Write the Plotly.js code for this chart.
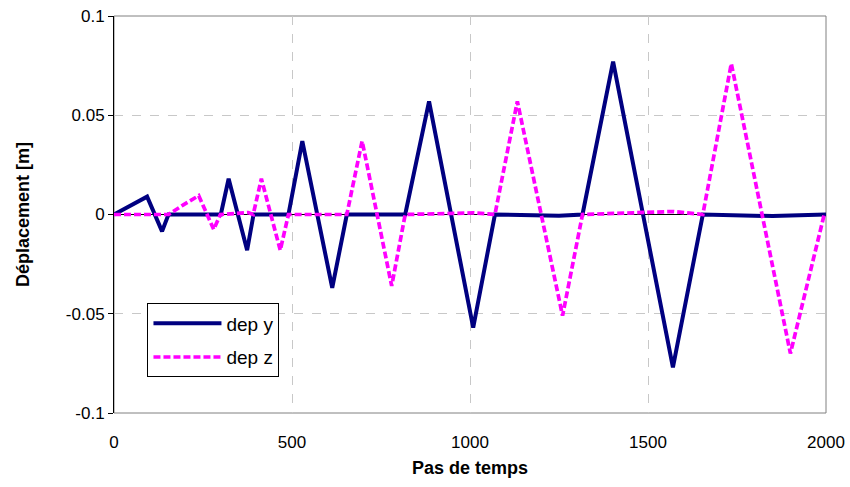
<!DOCTYPE html>
<html>
<head>
<meta charset="utf-8">
<script src="https://cdn.plot.ly/plotly-3.0.1.min.js"></script>
<style>
  html, body { margin: 0; padding: 0; background: #ffffff; }
  #chart { width: 850px; height: 487px; }
</style>
</head>
<body>
<div id="chart"></div>
<script>
// Data (vertices of the piecewise-linear curves)
const stepsY = [0, 93, 135, 153, 300, 322, 374, 392, 490, 529, 613, 654, 818, 885, 1009, 1070, 1250, 1316, 1402, 1570, 1654, 1850, 2000];
const depY   = [0, 0.009, -0.0085, 0, 0, 0.018, -0.018, 0, 0, 0.037, -0.037, 0, 0, 0.057, -0.057, 0, -0.0006, 0, 0.077, -0.077, 0, -0.0008, 0];

const stepsZ = [0, 153, 196, 238, 280, 299, 377, 391, 414, 467, 490, 654, 697, 780, 818, 1010, 1070, 1133, 1260, 1316, 1570, 1654, 1734, 1900, 1995];
const depZ   = [0, 0, 0.005, 0.0095, -0.0075, 0, 0.001, 0, 0.018, -0.018, 0, 0, 0.037, -0.036, 0, 0.0008, 0, 0.057, -0.051, 0, 0.0015, 0, 0.076, -0.07, 0];

const seriesNames = ['dep y', 'dep z'];
const yTickVals = [-0.1, -0.05, 0, 0.05, 0.1];
const yTickText = ['-0.1', '-0.05', '0', '0.05', '0.1'];
const xTickVals = [0, 500, 1000, 1500, 2000];
const xTickText = ['0', '500', '1000', '1500', '2000'];

const FONT = 'Liberation Sans, Arial, sans-serif';

const traces = [
  {
    x: stepsY, y: depY, name: seriesNames[0], type: 'scatter', mode: 'lines',
    line: { color: '#000080', width: 4 }, legendgroup: 'a'
  },
  {
    x: stepsZ, y: depZ, name: seriesNames[1], type: 'scatter', mode: 'lines',
    line: { color: '#FF00FF', width: 3.7, dash: '7px,3px' }, legendgroup: 'b'
  }
];

const layout = {
  width: 850, height: 487,
  margin: { l: 114, r: 24, t: 16, b: 74 },
  paper_bgcolor: '#ffffff', plot_bgcolor: '#ffffff',
  font: { family: FONT, color: '#000000', size: 17 },
  showlegend: true,
  legend: {
    x: 0.047, y: 0.276, xanchor: 'left', yanchor: 'top',
    bordercolor: '#000000', borderwidth: 1, bgcolor: '#ffffff',
    font: { family: FONT, size: 19, color: '#000000' },
    traceorder: 'grouped', tracegroupgap: 6, itemwidth: 68
  },
  xaxis: {
    range: [0, 2000], tickvals: xTickVals, ticktext: xTickText,
    showgrid: true, gridcolor: '#c8c8c8', griddash: 'dash', gridwidth: 1,
    zeroline: false, showline: false, ticks: '',
    tickfont: { family: FONT, size: 17, color: '#000000' },
    ticklabelstandoff: 17,
    title: { text: 'Pas de temps', font: { family: FONT, size: 18, weight: 'bold', color: '#000000' }, standoff: 10 }
  },
  yaxis: {
    range: [-0.1, 0.1], tickvals: yTickVals, ticktext: yTickText,
    showgrid: true, gridcolor: '#c8c8c8', griddash: 'dash', gridwidth: 1,
    zeroline: true, zerolinecolor: '#000000', zerolinewidth: 1,
    showline: true, linecolor: '#000000', linewidth: 1,
    ticks: 'outside', ticklen: 5, tickcolor: '#000000',
    tickfont: { family: FONT, size: 17, color: '#000000' },
    title: { text: 'Déplacement [m]', font: { family: FONT, size: 18, weight: 'bold', color: '#000000' }, standoff: 31 }
  },
  shapes: [
    { type: 'rect', xref: 'paper', yref: 'paper', x0: 0, x1: 1, y0: 0, y1: 1,
      line: { color: '#808080', width: 1 }, layer: 'below' }
  ]
};

Plotly.newPlot('chart', traces, layout, { displayModeBar: false, staticPlot: true });
</script>
</body>
</html>
